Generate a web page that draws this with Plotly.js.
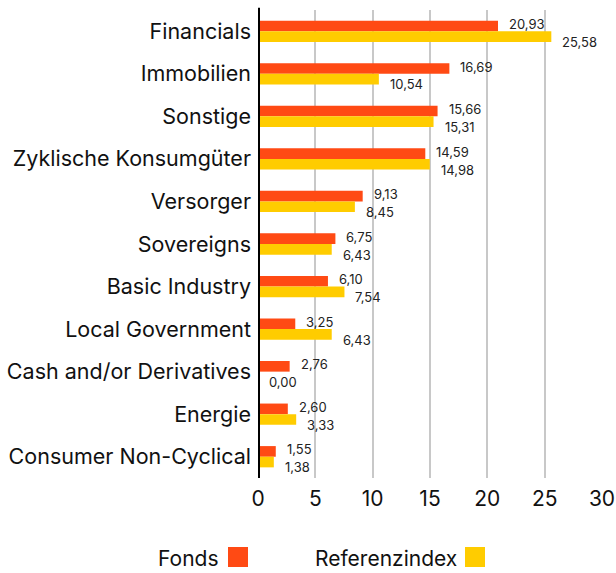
<!DOCTYPE html>
<html><head><meta charset="utf-8">
<script src="https://cdn.plot.ly/plotly-3.0.1.min.js"></script>
<style>html,body{margin:0;padding:0;background:#fff}#chart{width:616px;height:573px}</style>
</head><body><div id="chart"></div>
<script>
const categories = ["Financials","Immobilien","Sonstige","Zyklische Konsumgüter","Versorger","Sovereigns","Basic Industry","Local Government","Cash and/or Derivatives","Energie","Consumer Non-Cyclical"];
const fonds = [20.93,16.69,15.66,14.59,9.13,6.75,6.10,3.25,2.76,2.60,1.55];
const referenz = [25.58,10.54,15.31,14.98,8.45,6.43,7.54,6.43,0.00,3.33,1.38];
const xTicks = [0,5,10,15,20,25,30];
const seriesNames = ["Fonds","Referenzindex"];
const colors = ["#FF4A14","#FFCC00"];
const FONT = "Inter, Roboto, sans-serif";
const fmt = v => v.toFixed(2).replace(".", ",");

const traces = [
  {type:"bar", orientation:"h", name:seriesNames[0], y:categories, x:fonds, marker:{color:colors[0]}, hoverinfo:"x+y"},
  {type:"bar", orientation:"h", name:seriesNames[1], y:categories, x:referenz, marker:{color:colors[1]}, hoverinfo:"x+y"}
];

// plot area in pixels
const PL = 258, PR = 602, PT = 10, PB = 478;
const px = x => (x - PL) / (PR - PL);
const py = y => (PB - y) / (PB - PT);

const annotations = [];
categories.forEach((c,i)=>{
  annotations.push({x:fonds[i], y:i-0.17, xref:"x", yref:"y", text:fmt(fonds[i]), showarrow:false, xanchor:"left", yanchor:"middle", xshift:9, font:{family:FONT,size:13,color:"#222"}});
  annotations.push({x:referenz[i], y:i+0.25, xref:"x", yref:"y", text:fmt(referenz[i]), showarrow:false, xanchor:"left", yanchor:"middle", xshift:9, font:{family:FONT,size:13,color:"#222"}});
});
const legendItems = [{label:seriesNames[0], color:colors[0], xr:221, sx:228}, {label:seriesNames[1], color:colors[1], xr:459, sx:465}];
const shapes = [{type:"line", xref:"x", yref:"paper", x0:0, x1:0, y0:0, y1:1.005, line:{color:"#000", width:4}}];
legendItems.forEach(it=>{
  annotations.push({x:px(it.xr), y:py(558), xref:"paper", yref:"paper", text:it.label, showarrow:false, xanchor:"right", yanchor:"middle", font:{family:FONT,size:21,color:"#111"}});
  shapes.push({type:"rect", xref:"paper", yref:"paper", x0:px(it.sx), x1:px(it.sx+20), y0:py(567), y1:py(547), fillcolor:it.color, line:{width:0}});
});

const layout = {
  width:616, height:573,
  margin:{l:PL, r:616-PR, t:PT, b:573-PB},
  paper_bgcolor:"#fff", plot_bgcolor:"#fff",
  barmode:"group", bargap:0.5, bargroupgap:0,
  showlegend:false,
  font:{family:FONT, color:"#111"},
  xaxis:{range:[0,30], tickvals:xTicks, ticktext:xTicks.map(String), showgrid:true, gridcolor:"#c8c8c8", gridwidth:2, zeroline:false, showline:false, tickfont:{size:21,family:FONT,color:"#111"}, ticks:"", ticklen:0, ticklabelstandoff:6, fixedrange:true},
  yaxis:{type:"category", autorange:"reversed", showgrid:false, zeroline:false, showline:false, ticks:"", tickfont:{size:21.5,family:FONT,color:"#111"}, ticklabelstandoff:6, fixedrange:true},
  annotations:annotations,
  shapes:shapes
};
Plotly.newPlot("chart", traces, layout, {displayModeBar:false, staticPlot:true});
</script></body></html>
